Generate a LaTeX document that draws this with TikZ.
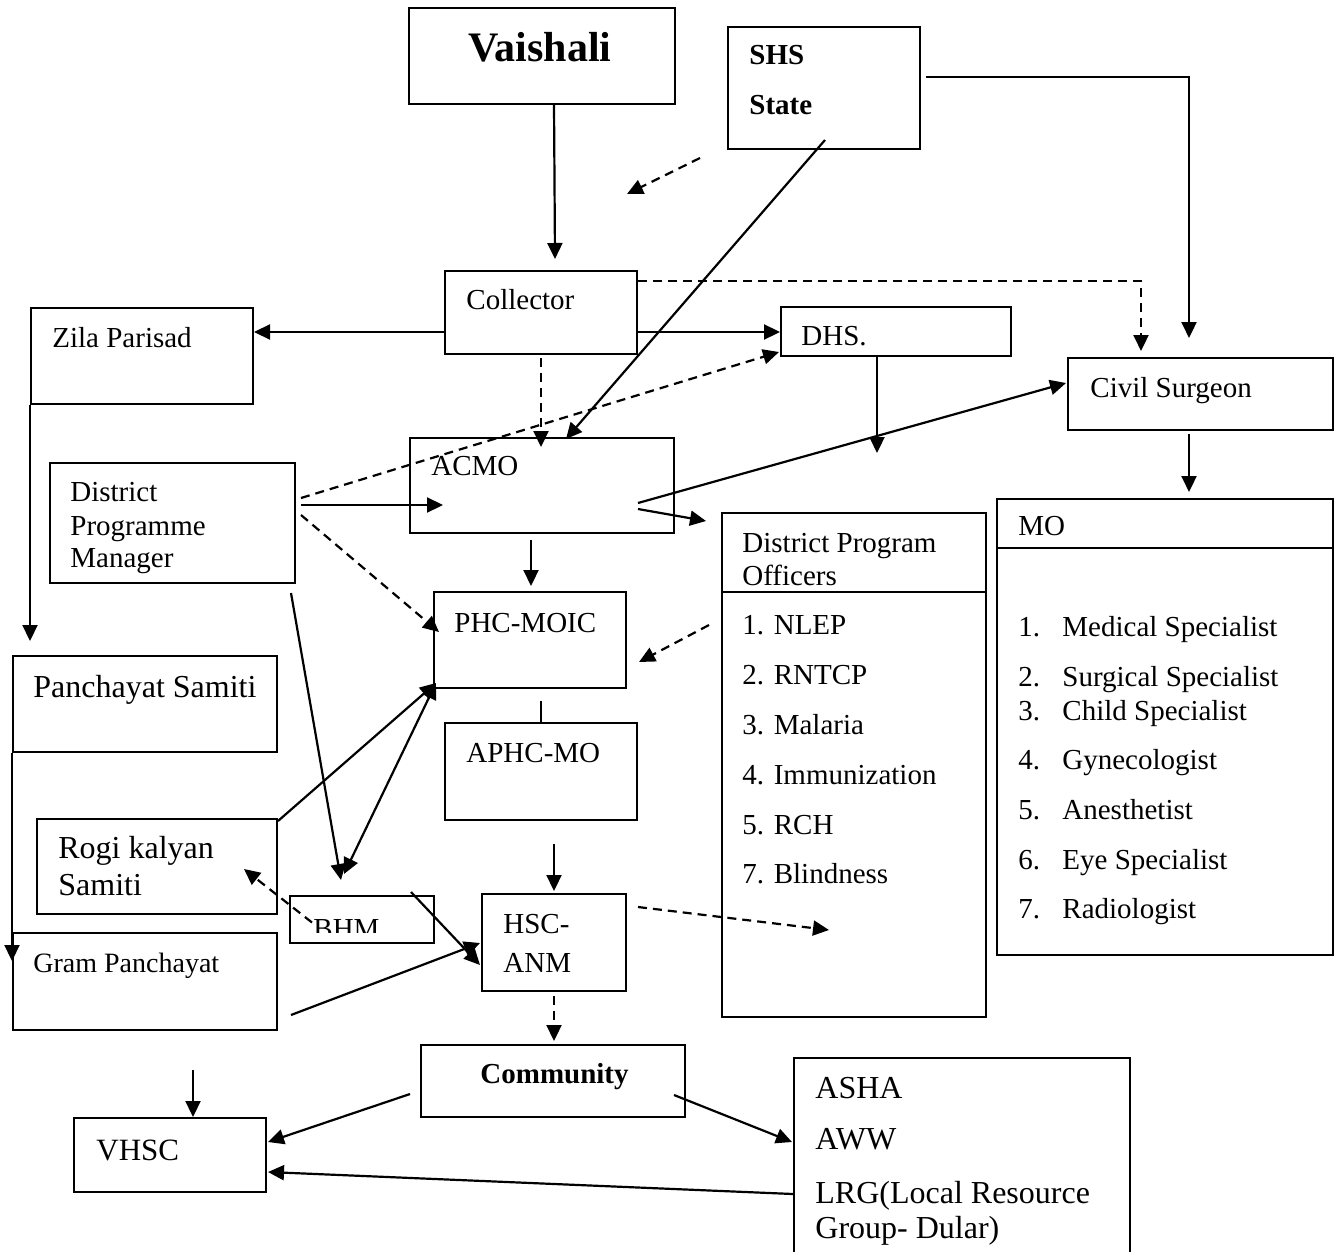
\documentclass[tikz,border=0pt]{standalone}
\usepackage{fontspec}
\setmainfont{Liberation Serif}
\usetikzlibrary{arrows.meta,fit}
\begin{document}
\begin{tikzpicture}[x=0.5pt,y=-0.5pt,
  box/.style={draw,line width=1pt,inner sep=0pt,fit={#1}},
  txt/.style={anchor=base west,inner sep=0pt,font=\fontsize{14.5}{17}\selectfont},
  big/.style={anchor=base west,inner sep=0pt,font=\fontsize{16}{19}\selectfont},
  arr/.style={line width=1.1pt,-{Triangle[length=8pt,width=7.5pt]}},
  darr/.style={line width=1.1pt,{Triangle[length=8pt,width=7.5pt]}-{Triangle[length=8pt,width=7.5pt]}},
  plain/.style={line width=1pt},
  dsh/.style={dash pattern=on 4.5pt off 3pt}]
\useasboundingbox (0,0) rectangle (1336,1251);
% boxes
\node[box={(409,8) (675,104)}] (vai) {};
\node[box={(728,27) (920,149)}] (shs) {};
\node[box={(445,271) (637,354)}] (col) {};
\node[box={(31,308) (253,404)}] (zila) {};
\node[box={(781,307) (1011,356)}] (dhs) {};
\node[box={(1068,358) (1333,430)}] (civ) {};
\node[box={(50,463) (295,583)}] (dpm) {};
\node[box={(410,438) (674,533)}] (acmo) {};
\node[box={(434,592) (626,688)}] (phc) {};
\node[box={(722,513) (986,1017)}] (dpo) {};
\node[box={(997,499) (1333,955)}] (mo) {};
\node[box={(13,656) (277,752)}] (ps) {};
\node[box={(445,723) (637,820)}] (aphc) {};
\node[box={(37,819) (277,914)}] (rks) {};
\node[box={(290,896) (434,943)}] (bhm) {};
\node[box={(482,894) (626,991)}] (hsc) {};
\node[box={(13,933) (277,1030)}] (gp) {};
\node[box={(421,1045) (685,1117)}] (com) {};
\node[box={(74,1118) (266,1192)}] (vhsc) {};
\node[box={(794,1058) (1130,1275)}] (asha) {};
% header lines
\coordinate (dpoh) at (0,592);
\coordinate (moh) at (0,548);
\draw[plain] (dpo.west |- dpoh) -- (dpo.east |- dpoh);
\draw[plain] (mo.west |- moh) -- (mo.east |- moh);
% texts
\node[anchor=base west,inner sep=0pt,font=\fontsize{21}{25}\selectfont\bfseries] (vait) at (468,62) {Vaishali};
\node[txt,font=\fontsize{14.5}{17}\selectfont\bfseries] (shst1) at (749,65) {SHS};
\node[txt,font=\fontsize{14.5}{17}\selectfont\bfseries] (shst2) at (749,115) {State};
\node[txt] (colt) at (466,309) {Collector};
\node[txt] (zilat) at (52,347) {Zila Parisad};
\node[txt] (dhst) at (801,345) {DHS.};
\node[txt] (civt) at (1090,397) {Civil Surgeon};
\node[txt] (acmot) at (431,475) {ACMO};
\node[txt] (dpmt1) at (70,501) {District};
\node[txt] (dpmt2) at (70,535) {Programme};
\node[txt] (dpmt3) at (70,567) {Manager};
\node[txt] (phct) at (454,632) {PHC-MOIC};
\node[txt] (mot) at (1018,535) {MO};
\node[txt] (dpot1) at (742,552) {District Program};
\node[txt] (dpot2) at (742,585) {Officers};
\node[txt] (dpo1) at (742,634) {1. NLEP};
\node[txt] (dpo2) at (742,684) {2. RNTCP};
\node[txt] (dpo3) at (742,734) {3. Malaria};
\node[txt] (dpo4) at (742,784) {4. Immunization};
\node[txt] (dpo5) at (742,834) {5. RCH};
\node[txt] (dpo7) at (742,883) {7. Blindness};
\node[txt] (mon1) at (1018,636) {1.};
\node[txt] (mo1) at (1062,636) {Medical Specialist};
\node[txt] (mon2) at (1018,686) {2.};
\node[txt] (mo2) at (1062,686) {Surgical Specialist};
\node[txt] (mon3) at (1018,720) {3.};
\node[txt] (mo3) at (1062,720) {Child Specialist};
\node[txt] (mon4) at (1018,769) {4.};
\node[txt] (mo4) at (1062,769) {Gynecologist};
\node[txt] (mon5) at (1018,819) {5.};
\node[txt] (mo5) at (1062,819) {Anesthetist};
\node[txt] (mon6) at (1018,869) {6.};
\node[txt] (mo6) at (1062,869) {Eye Specialist};
\node[txt] (mon7) at (1018,918) {7.};
\node[txt] (mo7) at (1062,918) {Radiologist};
\node[big] (pst) at (33,697) {Panchayat Samiti};
\node[txt] (aphct) at (466,762) {APHC-MO};
\node[big] (rkst1) at (58,858) {Rogi kalyan};
\node[big] (rkst2) at (58,895) {Samiti};
\begin{scope}
\clip (290,896) rectangle (434,932);
\node[txt] (bhmt) at (313,938) {BHM};
\end{scope}
\node[txt] (hsct1) at (503,933) {HSC-};
\node[txt] (hsct2) at (503,972) {ANM};
\node[txt,font=\fontsize{14}{17}\selectfont] (gpt) at (33,972) {Gram Panchayat};
\node[txt,font=\fontsize{14.5}{17}\selectfont\bfseries] (comt) at (480,1083) {Community};
\node[big,font=\fontsize{15.5}{19}\selectfont] (vhsct) at (96,1160) {VHSC};
\node[big] (asha1) at (815,1098) {ASHA};
\node[big] (asha2) at (815,1149) {AWW};
\node[big] (asha3) at (815,1203) {LRG(Local Resource};
\node[big] (asha4) at (815,1238) {Group- Dular)};
% free ends
\coordinate (f1s) at (700,158);
\coordinate (f1e) at (627,194);
\coordinate (f2e) at (829,930);
\coordinate (f3s) at (193,1070);
% connectors
\draw[arr] ([shift={(12,0)}]vai.south) -- ([shift={(14,-11)}]col.north);
\draw[arr] ([shift={(5,-11)}]shs.east) -| ([shift={(-11.5,-19)}]civ.north);
\draw[arr,dsh] (f1s) -- (f1e);
\draw[arr] ([shift={(1,-10)}]shs.south) -- ([shift={(24,2)}]acmo.north);
\draw[arr] ([shift={(0,19.5)}]col.west) -- ([shift={(0,-24)}]zila.east);
\draw[arr] ([shift={(0,19.5)}]col.east) -- ([shift={(0,0.5)}]dhs.west);
\draw[arr,dsh] ([shift={(0,11)}]col.north east) -| ([shift={(-59.5,-6)}]civ.north);
\draw[arr,dsh] ([shift={(0,3)}]col.south) -- ([shift={(-1,10)}]acmo.north);
\draw[arr,dsh] ([shift={(5,-25)}]dpm.east) -- ([shift={(-1,-5)}]dhs.south west);
\draw[arr] ([shift={(5,-18)}]dpm.east) -- ([shift={(34,19.5)}]acmo.west);
\draw[arr,dsh] ([shift={(5,-8)}]dpm.east) -- ([shift={(6,-8)}]phc.west);
\draw[arr] ([shift={(-37,17.5)}]acmo.east) -- ([shift={(-1,-11)}]civ.west);
\draw[arr] ([shift={(-37,23.5)}]acmo.east) -- ([shift={(-15,9)}]dpo.north west);
\draw[arr] ([shift={(-19,0)}]dhs.south) -- ([shift={(-19,96)}]dhs.south);
\draw[arr] ([shift={(-11,6)}]acmo.south) -- ([shift={(1,-5)}]phc.north);
\draw[arr] ([shift={(-11.5,3)}]civ.south) -- ([shift={(24,-6)}]mo.north);
\draw[arr,dsh] ([shift={(-12,-140)}]dpo.west) -- ([shift={(12,22)}]phc.east);
\draw[plain] ([shift={(11,12)}]phc.south) -- (aphc.north);
\draw[arr] ([shift={(13,23)}]aphc.south) -- ([shift={(0,-2)}]hsc.north);
\draw[arr,dsh] ([shift={(0,4)}]hsc.south) -- ([shift={(1,-3)}]com.north);
\draw[arr,dsh] ([shift={(11,-35.5)}]hsc.east) -- (f2e);
\draw[arr,shorten >=7pt] (zila.south west) -- (zila.south west |- ps.north);
\draw[arr] (ps.south west) -- ([shift={(0,29)}]gp.north west);
\draw[arr] ([shift={(-5,9)}]dpm.south east) -- ([shift={(-21,-15)}]bhm.north);
\draw[darr] ([shift={(3,-6)}]phc.south west) -- ([shift={(-18,-21)}]bhm.north);
\draw[arr] ([shift={(0,3)}]rks.north east) -- ([shift={(3,-6)}]phc.south west);
\draw[arr,dsh] ([shift={(23,3)}]bhm.west) -- ([shift={(-34,2.5)}]rks.east);
\draw[arr] ([shift={(-24,-3)}]bhm.north east) -- ([shift={(-1,22.5)}]hsc.west);
\draw[arr] ([shift={(13,33.5)}]gp.east) -- ([shift={(-1,0.5)}]hsc.west);
\draw[arr] (f3s) -- (f3s |- vhsc.north);
\draw[arr] ([shift={(-10,13)}]com.west) -- ([shift={(1,-13)}]vhsc.east);
\draw[arr] ([shift={(-12,14)}]com.east) -- ([shift={(-1,85)}]asha.north west);
\draw[arr] ([shift={(0,137)}]asha.north west) -- ([shift={(1,17)}]vhsc.east);
\end{tikzpicture}
\end{document}
